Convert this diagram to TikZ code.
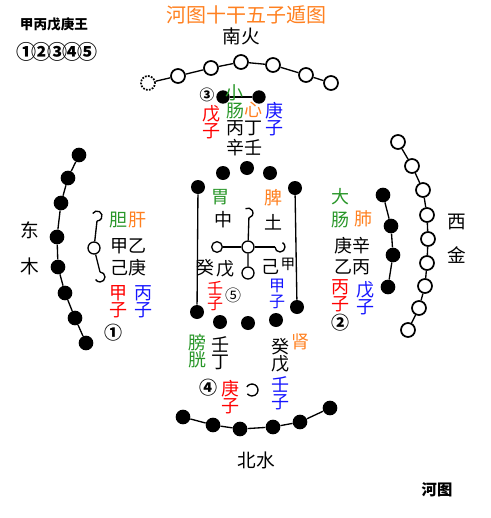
\documentclass[tikz,border=0pt]{standalone}
\usepackage{fontspec}
\setmainfont{Noto Sans CJK SC}
\usepackage{tikz}

\definecolor{gcol}{RGB}{40,150,40}
\definecolor{ocol}{RGB}{255,128,32}
\definecolor{rcol}{RGB}{255,0,0}
\definecolor{bcol}{RGB}{20,20,255}

\begin{document}
\begin{tikzpicture}[x=0.75pt,y=0.75pt,yscale=-1,xscale=1,
  wdot/.style={circle,draw,fill=white,line width=1.3pt,inner sep=0pt,minimum size=10.5pt},
  bdot/.style={circle,fill=black,inner sep=0pt,minimum size=11pt},
  pdot/.style={circle,draw,fill=white,line width=1pt,inner sep=0pt,minimum size=8pt},
  link/.style={line width=1pt},
  zi/.style={inner sep=0pt,align=center,font=\fontsize{13.5}{13}\selectfont},
  big/.style={inner sep=0pt,font=\fontsize{14}{14}\selectfont},
  num/.style={inner sep=0pt,font=\bfseries\fontsize{13.5}{13}\selectfont}]
\useasboundingbox (0,0) rectangle (490,518);

%Titles
\node[inner sep=0pt,text=ocol,font=\fontsize{15}{15}\selectfont] (title) at (246,15) {河图十干五子遁图};
\node[inner sep=0pt,font=\bfseries\fontsize{10.2}{10}\selectfont] (key1) at (54,24) {甲丙戊庚王};
\node[inner sep=0pt,font=\bfseries\fontsize{15}{15}\selectfont] (key2) at (57,52) {①\kern-3.5pt②\kern-3.5pt③\kern-3.5pt④\kern-3.5pt⑤};
\node[inner sep=0pt,font=\bfseries\fontsize{11.5}{11}\selectfont] (hetu) at (437,490) {河图};
\node[big] (nanhuo) at (241,36) {南火};
\node[big] (beishui) at (256,460) {北水};
\node[big] (dong) at (30,230) {东};
\node[big] (mu) at (30,266) {木};
\node[big] (xi) at (457,222) {西};
\node[big] (jin) at (457,255) {金};

%South: seven white
\node[wdot,densely dotted] (s1) at (148,83) {};
\node[wdot] (s2) at (178,76) {};
\node[wdot] (s3) at (211,68) {};
\node[wdot] (s4) at (241,62) {};
\node[wdot] (s5) at (273,65) {};
\node[wdot] (s6) at (306,75) {};
\node[wdot] (s7) at (331,83) {};
\draw[link] (s1) -- (s2) -- (s3) -- (s4) -- (s5) -- (s6) -- (s7);
%South: two black
\node[bdot,minimum size=10pt] (t1) at (223,97) {};
\node[bdot,minimum size=10pt] (t2) at (259,97) {};
\draw[link] (t1) -- (t2);

%East: eight black
\node[bdot] (e1) at (79,155) {};
\node[bdot] (e2) at (68,178) {};
\node[bdot] (e3) at (61,203) {};
\node[bdot] (e4) at (57,237) {};
\node[bdot] (e5) at (58,267) {};
\node[bdot] (e6) at (65,293) {};
\node[bdot] (e7) at (75,318) {};
\node[bdot] (e8) at (86,343) {};
\draw[link] (e1) -- (e2) -- (e3) -- (e4) -- (e5) -- (e6) -- (e7) -- (e8);
%East: three white
\coordinate (ea) at (92.7,213.5);
\coordinate (eab) at (97,221);
\node[pdot,minimum size=9pt] (ei) at (94,248) {};
\coordinate (ebt) at (100,272);
\draw[link] (ea) arc[start angle=-150,end angle=90,radius=5];
\draw[link] (ebt) arc[start angle=-90,end angle=150,radius=5];
\draw[link] (eab) -- (ei) -- (ebt);

%West: nine white
\node[wdot] (w1) at (398,142) {};
\node[wdot] (w2) at (412,166) {};
\node[wdot] (w3) at (423,190) {};
\node[wdot] (w4) at (427,215) {};
\node[wdot] (w5) at (428,239) {};
\node[wdot] (w6) at (427,263) {};
\node[wdot] (w7) at (425,286) {};
\node[wdot] (w8) at (419,308) {};
\node[wdot] (w9) at (408,330) {};
\draw[link] (w1) -- (w2) -- (w3) -- (w4) -- (w5) -- (w6) -- (w7) -- (w8) -- (w9);
%West: four black
\node[bdot] (wi1) at (383,195) {};
\node[bdot] (wi2) at (391,226) {};
\node[bdot] (wi3) at (393,255) {};
\node[bdot] (wi4) at (388,287) {};
\draw[link] (wi1) -- (wi2) -- (wi3) -- (wi4);

%North: six black
\node[bdot] (n1) at (183,417) {};
\node[bdot] (n2) at (213,425) {};
\node[bdot] (n3) at (240,429) {};
\node[bdot] (n4) at (273,427) {};
\node[bdot] (n5) at (300,422) {};
\node[bdot] (n6) at (330,408) {};
\draw[link] (n1) -- (n2) -- (n3) -- (n4) -- (n5) -- (n6);
%North: one white
\coordinate (na) at (246.8,387);
\draw[link] (na) arc[start angle=-150,end angle=140,radius=6];

%Centre: ten black
\node[bdot,minimum size=10.5pt] (ct1) at (223,173) {};
\node[bdot,minimum size=10.5pt] (ct2) at (247,168) {};
\node[bdot,minimum size=10.5pt] (ct3) at (270,173) {};
\node[bdot,minimum size=10.5pt] (cb1) at (220,322) {};
\node[bdot,minimum size=10.5pt] (cb2) at (248,323) {};
\node[bdot,minimum size=10.5pt] (cb3) at (276,320) {};
\node[bdot,minimum size=10.5pt] (cl1) at (198,187) {};
\node[bdot,minimum size=10.5pt] (cl2) at (197,312) {};
\node[bdot,minimum size=10.5pt] (cr1) at (295,188) {};
\node[bdot,minimum size=10.5pt] (cr2) at (297,307) {};
\draw[link] (cl1) -- (cl2);
\draw[link] (cr1) -- (cr2);
%Centre: five white
\node[pdot,minimum size=9pt] (cc) at (248,247) {};
\node[pdot] (cw) at (217,247) {};
\node[pdot,minimum size=9pt] (cs) at (248,273) {};
\coordinate (cna) at (245.5,208.7);
\coordinate (cnb) at (248.9,217.9);
\coordinate (cew) at (275,247);
\draw[link] (cna) arc[start angle=-120,end angle=80,radius=5];
\draw[link] (cew) arc[start angle=-180,end angle=-420,radius=5];
\draw[link] (cnb) -- (cc) -- (cs);
\draw[link] (cw) -- (cc) -- (cew);

%Labels south
\node[num,font=\bfseries\fontsize{11}{11}\selectfont] (m3) at (207,95) {③};
\node[zi,text=gcol] (xiao) at (234,93) {小};
\node[zi,text=gcol] (chang1) at (235,111) {肠};
\node[zi,text=ocol] (xin) at (253,110) {心};
\node[zi,text=rcol] (wuzi1) at (211,122) {戊\\子};
\node[zi,text=bcol] (gengzi1) at (274,119) {庚\\子};
\node[zi] (bingding) at (244,128) {丙丁};
\node[zi] (xinren) at (244,148) {辛壬};

%Labels east
\node[zi,text=gcol] (dan) at (118,220) {胆};
\node[zi,text=ocol] (gan) at (137,220) {肝};
\node[zi] (jiayi) at (128,246) {甲乙};
\node[zi] (jigeng) at (128,268) {己庚};
\node[zi,text=rcol] (jiazi1) at (118,302) {甲\\子};
\node[zi,text=bcol] (bingzi1) at (143,302) {丙\\子};
\node[num] (m1) at (113,333) {①};

%Labels west
\node[zi,text=gcol] (da) at (340,197) {大};
\node[zi,text=gcol] (chang2) at (340,220) {肠};
\node[zi,text=ocol] (fei) at (363,219) {肺};
\node[zi] (gengxin) at (352,246) {庚辛};
\node[zi] (yibing) at (352,267) {乙丙};
\node[zi,text=rcol] (bingzi2) at (340,296) {丙\\子};
\node[zi,text=bcol] (wuzi2) at (365,298) {戊\\子};
\node[num] (m2) at (340,323) {②};

%Labels centre
\node[zi,text=gcol] (wei) at (220,197) {胃};
\node[zi,text=ocol] (pi) at (273,198) {脾};
\node[zi] (zhong) at (223,220) {中};
\node[zi] (tu) at (273,222) {土};
\node[zi] (gui1) at (205,268) {癸};
\node[zi] (wu1) at (225,269) {戊};
\node[zi] (ji1) at (270,267) {己};
\node[inner sep=0pt,font=\fontsize{11}{11}\selectfont] (jia1) at (288,264) {甲};
\node[inner sep=0pt,align=center,text=rcol,font=\fontsize{12}{11.5}\selectfont] (renzi1) at (215,296) {壬\\子};
\node[inner sep=0pt,font=\fontsize{12}{12}\selectfont] (m5) at (233,295) {⑤};
\node[inner sep=0pt,align=center,text=bcol,font=\fontsize{12}{11.5}\selectfont] (jiazi2) at (277,294) {甲\\子};

%Labels north
\node[zi,text=gcol] (panggu) at (197,351) {膀\\胱};
\node[zi] (rending) at (220,353) {壬\\丁};
\node[zi] (guiwu) at (280,355) {癸\\戊};
\node[zi,text=ocol] (shen) at (300,342) {肾};
\node[num] (m4) at (208,388) {④};
\node[zi,text=rcol] (gengzi2) at (230,397) {庚\\子};
\node[zi,text=bcol] (renzi2) at (280,393) {壬\\子};

\end{tikzpicture}
\end{document}
